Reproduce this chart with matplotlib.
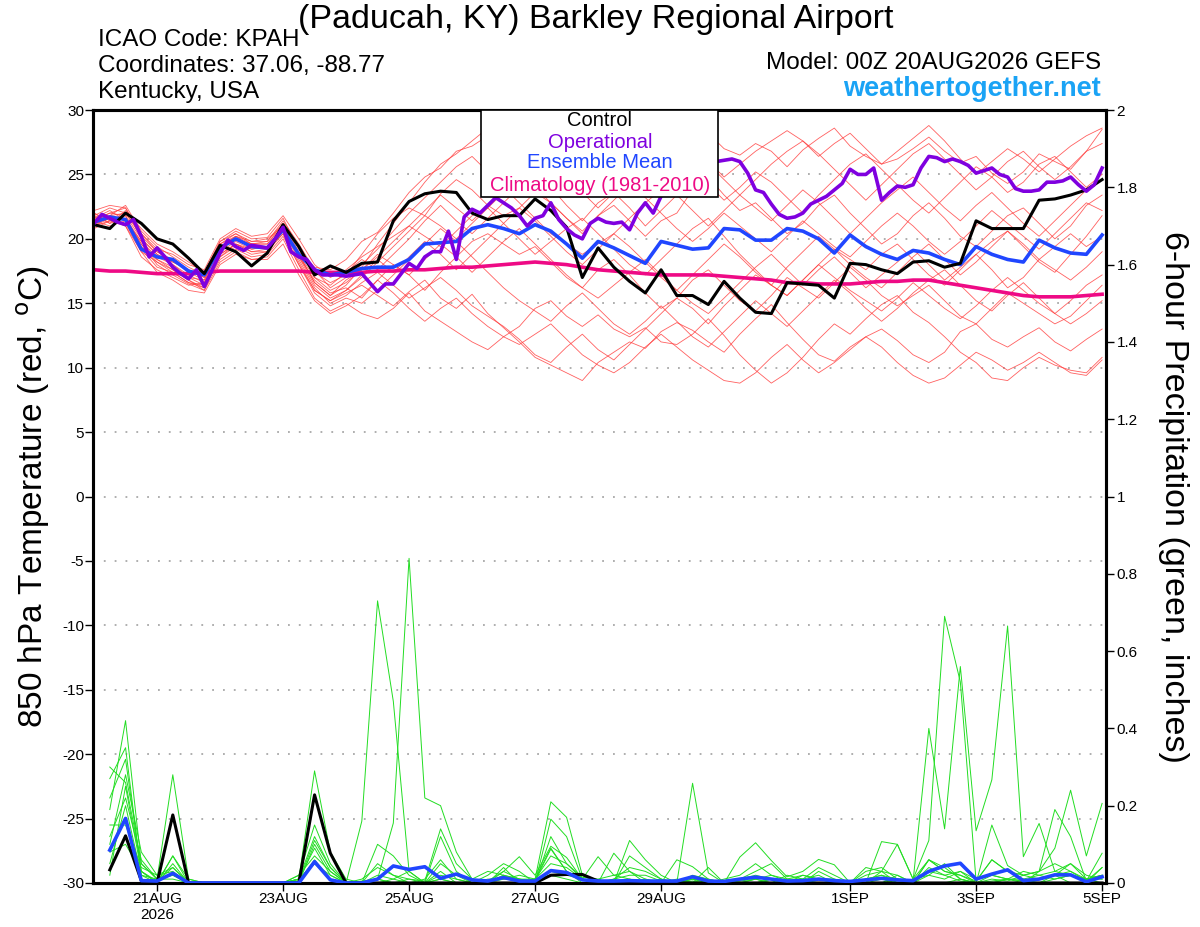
import numpy as np
import matplotlib
matplotlib.use("Agg")
import matplotlib.pyplot as plt
from matplotlib.patches import Rectangle
from matplotlib.ticker import FormatStrFormatter

plt.rcParams["font.family"] = ["Liberation Sans", "DejaVu Sans"]
plt.rcParams["axes.unicode_minus"] = False

# Forecast hours (6-hourly ensemble output, 3-hourly operational run)
hours6 = np.arange(0, 385, 6)
hours3 = np.arange(0, 385, 3)
precip_hours = np.arange(6, 385, 6)

date_ticks = [24, 72, 120, 168, 216, 288, 336, 384]
date_labels = ["21AUG\n2026", "23AUG", "25AUG", "27AUG", "29AUG", "1SEP", "3SEP", "5SEP"]

# 850 hPa temperature (C)
control_temp = [
    21.1, 20.8, 22.0, 21.2, 20.0, 19.6, 18.5, 17.3, 19.5, 19.0,
    17.9, 18.9, 21.1, 19.4, 17.2, 17.9, 17.4, 18.1, 18.2, 21.4,
    22.9, 23.5, 23.7, 23.6, 22.0, 21.5, 21.8, 21.8, 23.1, 22.2,
    20.9, 17.0, 19.3, 17.8, 16.7, 15.8, 17.6, 15.6, 15.6, 14.9,
    16.7, 15.4, 14.3, 14.2, 16.6, 16.5, 16.4, 15.4, 18.1, 18.0,
    17.6, 17.3, 18.2, 18.3, 17.8, 18.1, 21.4, 20.8, 20.8, 20.8,
    23.0, 23.1, 23.4, 23.8, 24.6]
mean_temp = [
    21.3, 21.7, 21.5, 19.2, 18.6, 18.4, 17.5, 17.2, 19.3, 20.0,
    19.4, 19.3, 20.7, 18.8, 17.6, 17.2, 17.4, 17.7, 17.8, 17.8,
    18.4, 19.6, 19.7, 19.8, 20.8, 21.1, 20.8, 20.4, 21.1, 20.6,
    19.6, 18.5, 19.8, 19.3, 18.7, 18.1, 19.8, 19.5, 19.2, 19.3,
    20.8, 20.7, 19.9, 19.9, 20.8, 20.6, 20.0, 18.9, 20.3, 19.4,
    18.8, 18.4, 19.1, 18.9, 18.4, 18.0, 19.4, 18.8, 18.4, 18.2,
    19.9, 19.3, 18.9, 18.8, 20.3]
clim_temp = [
    17.6, 17.5, 17.5, 17.4, 17.3, 17.3, 17.3, 17.4, 17.5, 17.5,
    17.5, 17.5, 17.5, 17.5, 17.4, 17.4, 17.4, 17.4, 17.5, 17.5,
    17.6, 17.6, 17.7, 17.8, 17.8, 17.9, 18.0, 18.1, 18.2, 18.1,
    18.0, 17.8, 17.6, 17.5, 17.4, 17.3, 17.2, 17.2, 17.2, 17.2,
    17.1, 17.0, 16.9, 16.8, 16.6, 16.6, 16.5, 16.5, 16.5, 16.6,
    16.7, 16.7, 16.8, 16.8, 16.6, 16.4, 16.2, 16.0, 15.8, 15.6,
    15.5, 15.5, 15.5, 15.6, 15.7]
oper_temp = [
    21.2, 21.9, 21.6, 21.3, 21.1, 21.5, 20.2, 18.6, 19.3, 18.6,
    17.8, 17.3, 16.9, 17.6, 16.3, 17.6, 18.9, 19.9, 19.4, 19.1,
    19.5, 19.4, 19.3, 20.0, 20.9, 19.0, 18.6, 18.4, 17.6, 17.2,
    17.2, 17.2, 17.1, 17.2, 17.3, 16.6, 15.9, 16.5, 16.5, 17.3,
    18.1, 17.7, 18.6, 19.0, 19.0, 20.6, 18.4, 21.7, 22.3, 22.0,
    22.6, 23.2, 22.8, 22.4, 21.8, 21.0, 21.6, 21.8, 22.8, 21.5,
    20.8, 20.3, 20.0, 21.2, 21.6, 21.3, 21.2, 21.3, 20.7, 22.0,
    22.8, 22.0, 23.3, 24.2, 25.0, 25.4, 25.6, 25.5, 25.9, 26.0,
    26.1, 26.2, 26.0, 25.1, 23.8, 23.6, 22.7, 21.9, 21.6, 21.7,
    22.0, 22.7, 23.0, 23.3, 23.8, 24.3, 25.4, 25.0, 25.0, 25.5,
    23.0, 23.6, 24.1, 24.0, 24.2, 25.5, 26.4, 26.3, 26.0, 26.2,
    26.0, 25.7, 25.1, 25.3, 25.5, 25.0, 24.8, 23.9, 23.7, 23.7,
    23.8, 24.4, 24.4, 24.5, 24.8, 24.2, 23.7, 24.2, 25.5]

# Ensemble members, 850 hPa temperature
temp_m01 = [21.5, 22.0, 21.8, 20.0, 18.8, 18.2, 17.6, 17.0, 19.4, 20.2,
            19.6, 19.8, 21.2, 19.0, 17.8, 17.6, 18.4, 19.8, 20.5, 22.0,
            23.6, 24.8, 25.5, 26.8, 27.2, 28.0, 27.4, 26.8, 27.5, 26.9,
            25.8, 24.6, 25.9, 26.4, 25.1, 24.2, 26.0, 26.8, 27.6, 28.2,
            27.0, 26.5, 27.4, 26.8, 25.6, 26.9, 27.8, 28.6, 27.2, 26.4,
            25.8, 26.2, 27.0, 27.9, 26.8, 25.9, 26.4, 25.1, 24.3, 25.2,
            26.6, 26.0, 25.4, 26.8, 28.5]
temp_m02 = [21.0, 21.6, 21.2, 19.0, 18.2, 17.6, 16.8, 16.2, 18.8, 19.6,
            19.0, 19.2, 20.4, 18.2, 16.0, 15.2, 15.8, 16.4, 15.6, 14.8,
            15.9, 16.8, 15.4, 14.6, 15.7, 14.2, 13.1, 12.0, 10.8, 10.2,
            9.6, 9.0, 10.4, 11.2, 12.0, 11.5, 12.8, 13.5, 12.9, 12.0,
            11.2, 12.6, 13.8, 14.9, 13.5, 12.2, 11.0, 10.5, 11.6, 12.4,
            13.0, 12.1, 11.0, 10.4, 11.2, 12.8, 13.4, 12.2, 11.6, 12.4,
            13.1, 12.0, 11.3, 12.2, 13.0]
temp_m03 = [22.0, 21.2, 21.6, 19.6, 18.0, 17.2, 16.5, 16.0, 18.2, 19.0,
            18.4, 18.6, 20.0, 17.6, 15.4, 14.4, 15.0, 14.2, 13.8, 14.6,
            15.8, 14.4, 13.6, 12.8, 12.0, 11.4, 12.4, 13.2, 14.6, 15.2,
            14.0, 13.2, 14.1, 13.0, 12.4, 13.1, 12.0, 11.8, 12.6, 13.8,
            12.5, 11.0, 9.8, 8.8, 9.6, 10.8, 12.2, 13.4, 12.6, 13.8,
            14.9, 15.6, 14.3, 13.5, 12.4, 11.2, 10.4, 9.2, 9.0, 10.0,
            10.8, 10.2, 9.8, 9.6, 10.8]
temp_m04 = [21.2, 21.8, 22.6, 20.6, 19.4, 18.6, 17.8, 17.2, 19.8, 20.6,
            20.0, 20.1, 21.6, 19.2, 17.4, 16.6, 17.2, 18.8, 20.4, 21.6,
            22.4, 21.8, 23.5, 24.6, 23.8, 22.6, 21.8, 22.4, 23.6, 22.8,
            21.6, 20.4, 21.8, 22.6, 21.4, 20.2, 21.4, 22.0, 23.8, 24.8,
            23.4, 22.2, 22.8, 21.6, 20.4, 21.2, 22.6, 23.4, 22.0, 20.8,
            19.6, 20.4, 21.8, 22.8, 21.6, 20.2, 19.4, 20.6, 21.8, 22.4,
            21.2, 20.0, 21.0, 22.6, 23.4]
temp_m05 = [20.8, 21.4, 21.0, 18.6, 17.6, 17.0, 16.4, 16.6, 19.0, 19.8,
            19.2, 19.4, 20.8, 18.6, 16.8, 15.8, 16.2, 15.4, 16.8, 18.0,
            17.2, 16.0, 17.4, 18.6, 19.8, 20.4, 19.6, 18.8, 19.4, 18.2,
            17.0, 16.2, 17.6, 18.4, 17.2, 15.8, 14.6, 15.4, 16.8, 17.6,
            16.4, 15.2, 14.4, 15.6, 17.0, 16.2, 15.4, 16.6, 17.8, 16.8,
            15.6, 14.8, 15.6, 16.4, 15.2, 14.0, 13.4, 14.6, 15.8, 15.0,
            14.2, 13.4, 14.0, 15.2, 16.4]
temp_m06 = [21.8, 22.4, 22.0, 20.2, 19.0, 18.4, 17.4, 16.8, 19.2, 20.2,
            19.8, 19.8, 21.4, 19.6, 17.6, 16.2, 17.0, 18.0, 19.2, 20.6,
            22.0, 23.2, 24.4, 25.6, 26.4, 25.2, 24.0, 22.8, 21.6, 20.4,
            19.6, 18.8, 19.6, 20.4, 21.6, 22.8, 23.8, 24.6, 25.4, 24.2,
            23.0, 24.0, 25.2, 24.4, 23.2, 22.0, 23.4, 24.6, 25.8, 26.6,
            25.4, 24.2, 23.0, 22.0, 23.2, 24.4, 25.6, 24.8, 23.6, 24.4,
            25.8, 26.4, 25.2, 24.0, 25.0]
temp_m07 = [21.4, 21.0, 21.4, 19.4, 18.4, 17.8, 17.0, 16.4, 18.6, 19.4,
            18.8, 19.0, 20.6, 18.4, 16.2, 15.0, 15.6, 16.6, 17.4, 16.4,
            15.4, 16.2, 17.0, 16.0, 14.8, 14.0, 13.2, 12.2, 11.0, 10.4,
            11.6, 12.6, 11.4, 10.6, 11.8, 13.0, 14.2, 15.4, 14.6, 13.4,
            14.8, 16.0, 17.2, 16.4, 15.6, 16.8, 18.0, 19.2, 18.4, 17.6,
            18.8, 19.6, 18.4, 17.2, 16.4, 17.6, 18.8, 17.6, 16.2, 17.0,
            18.4, 17.6, 16.8, 17.8, 19.0]
temp_m08 = [22.2, 22.6, 22.4, 20.4, 19.2, 18.8, 18.0, 17.6, 20.0, 20.8,
            20.2, 20.4, 21.8, 20.0, 18.0, 17.0, 17.6, 18.6, 19.4, 20.2,
            21.0, 20.2, 19.4, 20.6, 21.8, 22.4, 21.2, 20.0, 18.8, 19.8,
            20.8, 21.6, 20.4, 19.2, 18.0, 17.2, 18.4, 19.6, 20.8, 21.6,
            20.2, 18.8, 17.6, 16.4, 17.8, 19.0, 20.2, 19.2, 18.0, 17.0,
            16.2, 17.4, 18.6, 19.6, 18.4, 17.2, 18.2, 19.4, 20.6, 19.4,
            18.2, 17.4, 18.8, 20.2, 21.8]
temp_m09 = [21.6, 22.2, 21.4, 19.8, 18.6, 18.0, 17.2, 16.6, 19.6, 20.4,
            19.8, 20.0, 21.0, 18.8, 16.6, 15.6, 16.4, 17.8, 19.6, 21.2,
            22.8, 24.4, 25.8, 26.6, 27.6, 28.6, 27.8, 26.4, 25.2, 24.0,
            22.6, 21.4, 22.8, 23.6, 22.4, 21.0, 22.2, 23.4, 24.6, 25.8,
            24.6, 23.4, 24.6, 25.8, 26.8, 27.6, 26.6, 25.4, 24.2, 23.0,
            24.2, 25.4, 26.6, 27.4, 26.2, 25.0, 23.8, 24.8, 26.0, 26.8,
            25.6, 24.6, 25.6, 26.8, 27.4]
temp_m10 = [21.0, 21.4, 21.8, 19.2, 17.8, 17.4, 16.6, 16.2, 18.4, 19.2,
            18.6, 18.8, 20.2, 18.0, 15.8, 14.8, 15.4, 15.0, 16.0, 17.2,
            18.4, 19.6, 20.8, 19.8, 18.6, 17.4, 16.2, 15.2, 14.4, 13.6,
            14.8, 15.8, 14.6, 13.4, 12.6, 13.6, 14.8, 13.6, 12.4, 11.6,
            12.8, 14.0, 15.2, 14.2, 13.2, 14.4, 15.6, 16.8, 15.8, 14.6,
            13.6, 14.6, 15.8, 16.8, 17.6, 16.4, 15.2, 14.4, 15.6, 16.6,
            15.4, 14.2, 13.4, 14.2, 15.2]
temp_m11 = [21.8, 21.2, 22.2, 20.8, 19.6, 19.0, 18.2, 17.4, 19.8, 20.4,
            19.6, 19.6, 21.2, 19.4, 17.0, 16.4, 17.4, 18.4, 17.6, 18.8,
            20.0, 21.4, 22.6, 21.4, 20.4, 21.6, 22.8, 24.0, 25.2, 26.0,
            24.8, 23.6, 22.4, 23.6, 24.8, 25.8, 24.6, 23.4, 22.2, 21.0,
            22.2, 23.4, 22.4, 21.4, 22.6, 23.8, 22.8, 21.6, 20.4, 21.6,
            22.8, 23.8, 24.8, 23.6, 22.4, 21.4, 22.6, 23.6, 22.4, 21.2,
            20.2, 21.4, 22.6, 23.8, 24.6]
temp_m12 = [21.2, 21.6, 21.0, 19.0, 17.4, 16.8, 16.0, 15.8, 18.0, 18.8,
            18.4, 18.4, 19.6, 17.2, 15.2, 14.2, 14.8, 15.6, 16.8, 15.8,
            14.6, 13.6, 14.6, 15.4, 14.2, 13.2, 12.4, 11.8, 12.6, 13.4,
            12.2, 11.0, 10.2, 9.6, 10.4, 11.6, 12.6, 11.6, 10.6, 9.8,
            9.0, 8.8, 9.6, 10.8, 11.8, 10.6, 9.6, 10.4, 11.4, 12.4,
            11.6, 10.4, 9.4, 8.8, 9.2, 10.2, 11.2, 10.6, 9.8, 10.4,
            11.2, 10.4, 9.6, 9.4, 10.6]
temp_m13 = [21.4, 22.0, 22.4, 20.0, 18.8, 18.0, 17.0, 16.8, 19.6, 20.2,
            19.4, 19.2, 20.8, 18.6, 16.4, 15.4, 16.0, 17.0, 18.2, 19.4,
            20.6, 21.8, 21.0, 20.0, 21.2, 22.4, 23.6, 24.8, 25.8, 27.0,
            26.2, 25.0, 23.8, 24.8, 25.8, 26.8, 27.8, 28.4, 27.2, 26.0,
            24.8, 25.8, 26.8, 27.6, 28.4, 27.6, 26.4, 27.4, 28.2, 27.0,
            25.8, 26.8, 27.8, 28.8, 27.6, 26.2, 25.0, 26.0, 27.0, 26.2,
            25.2, 26.2, 27.2, 28.0, 28.6]
temp_m14 = [22.0, 21.4, 21.6, 19.8, 18.4, 17.6, 16.8, 16.0, 18.8, 19.6,
            19.2, 19.4, 20.6, 18.8, 16.6, 15.6, 16.8, 17.6, 18.8, 18.0,
            17.2, 18.4, 19.6, 18.6, 17.4, 18.6, 19.8, 20.8, 19.6, 18.4,
            17.2, 16.2, 15.4, 16.4, 17.4, 18.4, 17.2, 16.0, 15.0, 14.2,
            15.4, 16.6, 17.8, 18.8, 17.6, 16.4, 17.6, 18.6, 17.4, 16.2,
            17.2, 18.2, 19.2, 18.0, 16.8, 17.8, 18.8, 19.8, 20.6, 19.6,
            18.4, 19.4, 20.4, 19.4, 20.2]
temp_m15 = [21.6, 21.8, 22.0, 20.4, 19.0, 18.2, 17.6, 17.0, 19.2, 20.0,
            19.6, 19.6, 21.0, 18.8, 17.0, 16.0, 16.6, 17.6, 18.6, 19.8,
            21.0, 22.2, 23.4, 22.4, 21.4, 22.6, 23.8, 25.0, 24.0, 22.8,
            21.6, 20.6, 21.8, 23.0, 24.2, 23.2, 22.0, 20.8, 19.8, 20.8,
            22.0, 21.0, 20.0, 19.0, 20.2, 21.4, 20.4, 19.4, 18.6, 19.8,
            21.0, 22.0, 21.0, 19.8, 18.8, 19.8, 21.0, 22.2, 21.2, 20.2,
            19.2, 20.4, 21.6, 22.8, 22.2]
temp_m16 = [21.0, 21.8, 21.4, 19.6, 18.2, 17.4, 16.6, 16.4, 18.6, 19.6,
            19.0, 19.0, 20.4, 18.0, 16.0, 15.2, 16.0, 17.2, 18.4, 17.4,
            18.6, 19.8, 18.8, 17.6, 18.8, 20.0, 21.2, 22.4, 21.4, 20.2,
            19.0, 18.0, 19.2, 20.4, 19.4, 18.2, 17.0, 16.0, 17.2, 18.4,
            19.6, 18.6, 17.4, 16.4, 15.6, 16.8, 18.0, 17.0, 16.0, 15.2,
            14.4, 15.4, 16.6, 15.6, 14.6, 13.8, 14.8, 16.0, 17.0, 16.0,
            15.0, 14.2, 15.2, 16.4, 17.2]

# 6-hour precipitation (inches), from hour 6
control_precip = [
    0.034, 0.122, 0.006, 0, 0.176, 0, 0, 0,
    0, 0, 0, 0, 0, 0.228, 0.077, 0,
    0, 0, 0, 0, 0, 0, 0, 0,
    0, 0, 0, 0, 0.02, 0.022, 0.022, 0.005,
    0, 0, 0, 0, 0, 0, 0, 0,
    0, 0, 0, 0, 0, 0, 0, 0,
    0, 0, 0, 0, 0, 0, 0, 0,
    0, 0, 0, 0, 0, 0, 0, 0]
mean_precip = [
    0.085, 0.167, 0.006, 0.005, 0.025, 0, 0, 0,
    0, 0, 0, 0, 0, 0.055, 0.008, 0,
    0, 0.01, 0.044, 0.035, 0.042, 0.012, 0.023, 0.008,
    0.005, 0.014, 0.005, 0.005, 0.032, 0.027, 0.008, 0.005,
    0.005, 0.006, 0.005, 0.005, 0.005, 0.016, 0.005, 0.004,
    0.01, 0.015, 0.01, 0.005, 0.006, 0.01, 0.006, 0.004,
    0.008, 0.012, 0.008, 0.006, 0.03, 0.044, 0.051, 0.01,
    0.023, 0.034, 0.006, 0.01, 0.021, 0.021, 0.003, 0.016]

precip_m01 = [0.19, 0.42, 0.05, 0.01, 0.02, 0, 0, 0,
              0, 0, 0, 0, 0.01, 0.05, 0.01, 0,
              0.16, 0.73, 0.47, 0.03, 0, 0.01, 0, 0,
              0, 0.02, 0, 0.01, 0.09, 0.03, 0, 0,
              0, 0, 0.01, 0, 0, 0, 0, 0,
              0.01, 0.02, 0.01, 0, 0, 0.01, 0, 0,
              0, 0.03, 0, 0.01, 0.11, 0.69, 0.52, 0.005,
              0.06, 0.03, 0.01, 0, 0.02, 0, 0, 0.04]
precip_m02 = [0.27, 0.35, 0.02, 0, 0.07, 0, 0, 0,
              0, 0, 0, 0, 0, 0.1, 0.03, 0,
              0, 0.01, 0.155, 0.84, 0.22, 0.2, 0.08, 0.01,
              0, 0, 0, 0.01, 0.02, 0.01, 0, 0,
              0, 0, 0, 0, 0, 0, 0.04, 0,
              0, 0, 0, 0, 0, 0, 0, 0,
              0, 0, 0.01, 0.005, 0.40, 0.14, 0.56, 0.135,
              0.267, 0.665, 0.068, 0.154, 0.03, 0.02, 0.01, 0]
precip_m03 = [0.30, 0.26, 0.05, 0.01, 0.28, 0.01, 0, 0,
              0, 0, 0, 0, 0.01, 0.29, 0.08, 0.01,
              0, 0.1, 0.07, 0.02, 0, 0.12, 0.03, 0,
              0, 0.04, 0, 0.01, 0.21, 0.17, 0.02, 0,
              0, 0.11, 0.06, 0.02, 0, 0.01, 0, 0,
              0, 0, 0.01, 0, 0.02, 0.01, 0, 0,
              0, 0.107, 0.1, 0.01, 0.06, 0.03, 0.02, 0,
              0.15, 0.045, 0.02, 0.03, 0.09, 0.24, 0.07, 0.206]
precip_m04 = [0.22, 0.32, 0.03, 0, 0.05, 0, 0, 0,
              0, 0, 0, 0, 0.02, 0.15, 0.05, 0,
              0, 0.05, 0.02, 0, 0.01, 0.06, 0.01, 0,
              0.02, 0.05, 0.03, 0, 0.165, 0.12, 0.01, 0,
              0.077, 0.03, 0, 0.01, 0, 0.258, 0.026, 0,
              0, 0.01, 0, 0.02, 0.01, 0, 0, 0,
              0, 0, 0.02, 0, 0, 0, 0.01, 0,
              0, 0.01, 0, 0.03, 0.19, 0.12, 0.005, 0.077]
precip_m05 = [0.1, 0.28, 0.08, 0.02, 0.03, 0, 0, 0,
              0, 0, 0, 0, 0.005, 0.11, 0.04, 0,
              0, 0.02, 0.01, 0.03, 0, 0.03, 0, 0,
              0, 0.03, 0.068, 0.02, 0.095, 0.066, 0.01, 0.068,
              0.02, 0.01, 0, 0, 0.06, 0.042, 0.01, 0,
              0.067, 0.104, 0.058, 0.016, 0.03, 0.061, 0.047, 0,
              0.04, 0.03, 0.02, 0, 0.06, 0.03, 0.02, 0.005,
              0.06, 0.03, 0.02, 0.01, 0.02, 0.03, 0.005, 0.04]
precip_m06 = [0.02, 0.25, 0.03, 0, 0.07, 0.01, 0, 0,
              0, 0, 0, 0, 0.01, 0.09, 0.02, 0,
              0.01, 0.04, 0.02, 0.01, 0.005, 0.14, 0.05, 0.01,
              0.03, 0.02, 0.01, 0.005, 0.088, 0.03, 0.01, 0,
              0, 0.07, 0.04, 0.01, 0, 0.01, 0, 0.01,
              0.02, 0.05, 0.02, 0.005, 0.01, 0.04, 0.02, 0,
              0.02, 0.03, 0.1, 0.01, 0.02, 0.01, 0.03, 0,
              0.02, 0.01, 0.03, 0.02, 0.01, 0.02, 0.01, 0.02]
precip_m07 = [0.05, 0.2, 0.02, 0.01, 0.02, 0, 0, 0,
              0, 0, 0, 0, 0.02, 0.07, 0.03, 0,
              0, 0, 0.01, 0, 0, 0.02, 0.01, 0,
              0.01, 0.01, 0.02, 0.01, 0.07, 0.05, 0.015, 0.01,
              0.02, 0.03, 0.01, 0, 0, 0.005, 0, 0,
              0.01, 0.03, 0.05, 0.01, 0, 0.03, 0.01, 0,
              0.03, 0.04, 0.01, 0, 0.06, 0.04, 0.01, 0,
              0.01, 0.005, 0.02, 0.03, 0.05, 0.03, 0.01, 0.02]
precip_m08 = [0.15, 0.15, 0.04, 0.02, 0.04, 0, 0, 0,
              0, 0, 0, 0, 0.01, 0.05, 0.02, 0,
              0.005, 0.01, 0, 0, 0, 0.01, 0, 0,
              0, 0.02, 0.01, 0.01, 0.05, 0.04, 0.01, 0,
              0.01, 0.02, 0.02, 0.005, 0, 0.02, 0.01, 0,
              0, 0.01, 0.02, 0.01, 0.01, 0.02, 0, 0,
              0.01, 0.02, 0.01, 0, 0.03, 0.02, 0.005, 0,
              0.005, 0.01, 0.01, 0.02, 0.03, 0.05, 0.02, 0.01]
precip_m09 = [0.12, 0.22, 0.06, 0.01, 0.01, 0, 0, 0,
              0, 0, 0, 0, 0.005, 0.06, 0.01, 0,
              0, 0, 0, 0, 0, 0, 0, 0,
              0, 0.01, 0.01, 0, 0.03, 0.02, 0.01, 0,
              0, 0.01, 0, 0, 0.01, 0, 0, 0,
              0, 0, 0.01, 0, 0, 0.01, 0.005, 0,
              0, 0.01, 0, 0, 0.02, 0.05, 0.01, 0,
              0, 0.01, 0.005, 0, 0.01, 0.02, 0.01, 0.01]
precip_m10 = [0.08, 0.1, 0.03, 0.005, 0.04, 0, 0, 0,
              0, 0, 0, 0, 0.01, 0.12, 0.04, 0,
              0, 0.01, 0, 0.01, 0, 0.05, 0.02, 0,
              0.005, 0.03, 0.01, 0, 0.12, 0.05, 0.01, 0,
              0.01, 0.04, 0.03, 0.01, 0, 0.01, 0.005, 0,
              0.005, 0.01, 0, 0.01, 0.02, 0.01, 0.01, 0,
              0.01, 0.02, 0, 0, 0.04, 0.02, 0.03, 0.01,
              0.02, 0.01, 0.005, 0.01, 0.02, 0.05, 0.01, 0.02]

ens_temp = [temp_m01, temp_m02, temp_m03, temp_m04, temp_m05, temp_m06,
            temp_m07, temp_m08, temp_m09, temp_m10, temp_m11, temp_m12,
            temp_m13, temp_m14, temp_m15, temp_m16]
ens_precip = [precip_m01, precip_m02, precip_m03, precip_m04, precip_m05,
              precip_m06, precip_m07, precip_m08, precip_m09, precip_m10]

# Colours
red_c = "#FF3838"
green_c = "#22DD22"
purple_c = "#7F00DF"
blue_c = "#2046FF"
pink_c = "#EE0A85"

fig = plt.figure(figsize=(12, 9.27), dpi=100)
ax = fig.add_axes([0.0775, 0.0475, 0.8442, 0.8338])
ax2 = ax.twinx()

# Temperature lines
for member in ens_temp:
    ax.plot(hours6, member, color=red_c, lw=0.6, alpha=0.8, zorder=2)
ax.plot(hours6, clim_temp, color=pink_c, lw=2.6, zorder=4)
ax.plot(hours6, mean_temp, color=blue_c, lw=2.6, zorder=5)
ax.plot(hours6, control_temp, color="black", lw=2.2, zorder=6)
ax.plot(hours3, oper_temp, color=purple_c, lw=2.6, zorder=7)

# Precipitation lines
for member in ens_precip:
    ax2.plot(precip_hours, member, color=green_c, lw=0.7, zorder=2)
ax2.plot(precip_hours, control_precip, color="black", lw=2.2, zorder=4)
ax2.plot(precip_hours, mean_precip, color=blue_c, lw=2.6, zorder=5)

# Axes setup
ax.set_xlim(-0.4, 385.5)
ax.set_ylim(-30, 30)
ax2.set_ylim(0, 2)
ax.set_yticks(np.arange(-30, 31, 5))
ax2.set_yticks(np.arange(0, 2.01, 0.2))
ax2.yaxis.set_major_formatter(FormatStrFormatter("%g"))
ax.set_xticks(date_ticks)
ax.set_xticklabels(date_labels)

for yv in np.arange(-25, 30, 5):
    ax.axhline(yv, color="#A8A8A8", lw=1.3, ls=(0, (1, 5)), zorder=1)

for a in (ax, ax2):
    for sp in a.spines.values():
        sp.set_linewidth(2.2)
ax.tick_params(axis="y", labelsize=11, length=5.5, width=1, pad=1)
ax2.tick_params(axis="y", labelsize=11, length=5.5, width=1, pad=2)
ax.tick_params(axis="x", labelsize=11, length=5.5, width=1, pad=1)
ax.set_facecolor("white")

# Axis titles
fig.text(0.0275, 0.464, "850 hPa Temperature (red, $^{\\mathrm{o}}$C)",
         rotation=90, ha="center", va="center", fontsize=24)
fig.text(0.9775, 0.464, "6-hour Precipitation (green, inches)",
         rotation=270, ha="center", va="center", fontsize=24.5)

# Header texts
fig.text(0.4967, 0.9795, "(Paducah, KY) Barkley Regional Airport",
         ha="center", va="center", fontsize=24.5)
fig.text(0.0817, 0.9568, "ICAO Code: KPAH", ha="left", va="center", fontsize=17.5)
fig.text(0.0817, 0.9288, "Coordinates: 37.06, -88.77", ha="left", va="center", fontsize=17.5)
fig.text(0.0817, 0.9008, "Kentucky, USA", ha="left", va="center", fontsize=17.5)
fig.text(0.9175, 0.932, "Model: 00Z 20AUG2026 GEFS", ha="right", va="center", fontsize=17.5)
fig.text(0.9175, 0.904, "weathertogether.net", ha="right", va="center",
         fontsize=19.5, fontweight="bold", color="#1AA3F5")

# Legend box
fig.add_artist(Rectangle((0.4008, 0.7875), 0.1975, 0.0938, transform=fig.transFigure,
                         facecolor="white", edgecolor="black", lw=1.2, zorder=5))
legend_items = [("Control", "black", 0.8695),
                ("Operational", purple_c, 0.8468),
                ("Ensemble Mean", blue_c, 0.8242),
                ("Climatology (1981-2010)", pink_c, 0.8004)]
for label, col, yy in legend_items:
    fig.text(0.5, yy, label, ha="center", va="center", fontsize=14.5, color=col, zorder=6)

fig.savefig("out.png", dpi=100)
